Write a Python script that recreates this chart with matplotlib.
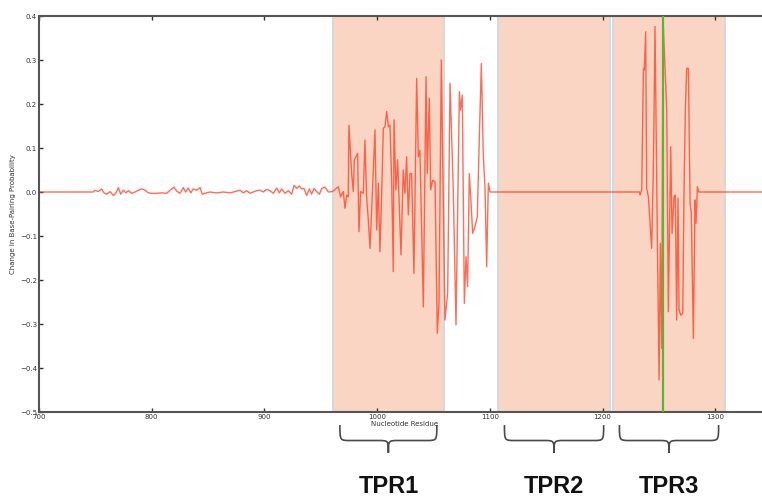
import matplotlib
matplotlib.use("Agg")
import matplotlib.pyplot as plt
from matplotlib.path import Path as MPath
from matplotlib.patches import PathPatch
import numpy as np

# flat stretch before the noise
lead_res = [700, 748]
lead_val = [0.0, 0.0]

# small wiggles 750-960
noise_res = [749.7, 752.6, 755.6, 757.7, 760.0, 763.0, 766.0, 768.3, 770.4, 772.5,
             774.8, 777.2, 779.3, 782.2, 785.2, 788.1, 791.1, 794.1, 797.0, 800.0,
             804.4, 808.8, 813.3, 817.7, 819.8, 822.2, 825.1, 828.1, 830.1, 832.5,
             834.6, 836.9, 839.9, 842.9, 844.9, 847.3, 851.7, 857.6, 863.6, 869.5,
             875.4, 878.4, 881.3, 884.3, 887.2, 890.2, 893.1, 896.1, 899.1, 902.0,
             905.0, 907.9, 910.9, 913.3, 915.3, 918.3, 921.2, 924.2, 926.3, 928.6,
             931.0, 933.1, 935.1, 937.5, 939.9, 941.9, 944.0, 946.4, 948.8, 950.8,
             953.8, 956.7]
noise_val = [0.004, 0.001, 0.007, -0.002, -0.005, 0.001, -0.008, -0.002, 0.010, -0.005,
             0.004, -0.002, 0.003, -0.003, 0.0, 0.004, 0.007, 0.004, -0.002, -0.003,
             -0.003, -0.002, -0.003, 0.007, 0.011, 0.002, -0.003, 0.010, 0.0, 0.009,
             -0.002, 0.007, 0.004, 0.010, -0.005, -0.003, 0.0, -0.002, 0.0, -0.002,
             0.002, 0.004, -0.002, 0.003, -0.003, 0.0, 0.003, 0.004, 0.0, 0.006,
             0.003, -0.003, 0.009, -0.002, 0.007, -0.003, 0.003, -0.005, 0.015, 0.008,
             0.014, 0.007, 0.008, -0.008, 0.007, -0.005, 0.008, 0.001, -0.005, 0.008,
             0.011, 0.0]

# burst around TPR1
tpr1_res = [960.5, 965.6, 967.6, 970.0, 971.5, 973.0, 974.4, 975.0, 977.4, 978.9,
            979.8, 981.2, 982.7, 983.9, 985.4, 987.8, 989.2, 990.7, 992.2, 993.7,
            995.2, 998.1, 999.6, 1001.1, 1002.5, 1004.0, 1005.5, 1007.0, 1008.5, 1010.0,
            1011.4, 1012.9, 1014.4, 1015.0, 1016.7, 1018.2, 1021.2, 1023.2, 1024.7, 1026.2,
            1027.7, 1029.2, 1030.6, 1032.7, 1035.1, 1036.6, 1038.0, 1041.0, 1043.4, 1044.5,
            1046.3, 1047.5, 1049.3, 1051.4, 1053.4, 1054.9, 1057.0, 1060.2, 1062.6, 1064.7,
            1067.6, 1070.0, 1073.0, 1074.1, 1075.6, 1077.4, 1078.9, 1080.3, 1081.8, 1083.3,
            1084.8, 1086.8, 1088.9, 1090.4, 1092.5, 1094.2, 1095.7, 1097.2, 1098.7, 1100.2]
tpr1_val = [0.001, 0.012, -0.011, 0.001, -0.037, -0.007, -0.011, 0.152, 0.042, 0.001,
            0.073, 0.080, 0.088, -0.090, 0.001, -0.003, 0.118, -0.011, -0.064, -0.128,
            -0.041, 0.141, -0.086, 0.020, -0.136, -0.011, 0.145, 0.148, 0.183, 0.148,
            0.152, 0.027, -0.181, 0.164, 0.005, 0.073, -0.143, 0.050, -0.003, 0.080,
            -0.052, 0.042, 0.042, -0.185, 0.258, 0.080, 0.095, -0.261, 0.262, 0.042,
            0.213, 0.005, 0.027, 0.023, -0.321, -0.253, 0.300, -0.291, -0.230, 0.247,
            0.005, -0.302, 0.228, 0.186, 0.220, -0.253, -0.147, -0.215, 0.042, -0.022,
            -0.094, -0.079, -0.056, 0.095, 0.292, 0.084, 0.012, -0.170, 0.020, 0.0]

# flat through TPR2
mid_res = [1232.7]
mid_val = [0.0]

# burst around TPR3
tpr3_res = [1233.3, 1234.8, 1236.3, 1237.1, 1238.3, 1239.2, 1240.7, 1243.6, 1245.1, 1246.6,
            1248.7, 1250.2, 1251.3, 1252.5, 1253.7, 1257.0, 1258.4, 1260.5, 1261.7, 1263.5,
            1264.6, 1265.8, 1267.0, 1267.9, 1269.4, 1271.2, 1272.3, 1273.5, 1274.7, 1276.2,
            1277.7, 1278.8, 1280.6, 1282.1, 1283.0, 1284.2, 1285.4]
tpr3_val = [-0.007, 0.005, 0.281, 0.277, 0.364, 0.008, -0.011, -0.128, 0.050, 0.376,
            -0.117, -0.427, -0.117, -0.355, 0.392, 0.186, -0.272, 0.103, -0.094, -0.011,
            -0.007, -0.291, -0.014, -0.268, -0.280, -0.276, 0.001, 0.186, 0.281, 0.281,
            -0.026, -0.048, -0.333, -0.018, -0.071, 0.012, 0.0]

tail_res = [1350]
tail_val = [0.0]

regions = [(961, 1059), (1107, 1207), (1209, 1309)]
region_names = ["TPR1", "TPR2", "TPR3"]
marker_res = 1253.4

xticks = [700, 800, 900, 1000, 1100, 1200, 1300]
yticks = [0.4, 0.3, 0.2, 0.1, 0.0, -0.1, -0.2, -0.3, -0.4, -0.5]

res = np.concatenate([lead_res, noise_res, tpr1_res, mid_res, tpr3_res, tail_res])
val = np.concatenate([lead_val, noise_val, tpr1_val, mid_val, tpr3_val, tail_val])


def brace(ax, x0, x1, yt, ym, yb, r=9):
    xc = 0.5 * (x0 + x1)
    verts = [(x0, yt), (x0, ym), (x0, ym), (x0 + r, ym),
             (xc - r, ym), (xc, ym), (xc, ym), (xc, yb),
             (xc, ym), (xc, ym), (xc + r, ym),
             (x1 - r, ym), (x1, ym), (x1, ym), (x1, yt)]
    codes = [MPath.MOVETO, MPath.CURVE4, MPath.CURVE4, MPath.CURVE4,
             MPath.LINETO, MPath.CURVE4, MPath.CURVE4, MPath.CURVE4,
             MPath.CURVE4, MPath.CURVE4, MPath.CURVE4,
             MPath.LINETO, MPath.CURVE4, MPath.CURVE4, MPath.CURVE4]
    patch = PathPatch(MPath(verts, codes), transform=ax.get_xaxis_transform(),
                      fill=False, edgecolor="#4a4a4a", lw=1.2, clip_on=False)
    ax.add_patch(patch)


fig = plt.figure(figsize=(7.62, 4.98), dpi=100)
ax = fig.add_axes([39 / 762, 1 - 412 / 498, 732 / 762, 396 / 498])

for lo, hi in regions:
    ax.axvspan(lo, hi, facecolor="#fad5c4", edgecolor="#d3d9dd", lw=1.5, zorder=0)

ax.plot(res, val, color="#ff3b1f", alpha=0.75, lw=1.0, zorder=2)
ax.axvline(marker_res, color="#5fb234", lw=1.6, zorder=3)

ax.set_xlim(700, 1349.5)
ax.set_ylim(-0.5, 0.4)
ax.set_xticks(xticks)
ax.set_yticks(yticks)
ax.tick_params(direction="in", length=3, width=1, labelsize=5, top=True, right=True,
               colors="#333333", pad=1.5)
for side in ["left", "top", "bottom"]:
    ax.spines[side].set_linewidth(1.5)
    ax.spines[side].set_color("#555555")
ax.spines["right"].set_visible(False)

ax.set_xlabel("Nucleotide Residue", fontsize=5, labelpad=1, color="#333333")
ax.set_ylabel("Change in Base-Pairing Probability", fontsize=5, labelpad=3, color="#333333")

for (lo, hi), name in zip(regions, region_names):
    brace(ax, lo + 6, hi - 6, -0.033, -0.072, -0.103)
    ax.text(0.5 * (lo + hi), -0.187, name, transform=ax.get_xaxis_transform(),
            ha="center", va="center", fontsize=17, fontweight="bold",
            family=["Liberation Sans", "DejaVu Sans"], color="#111111")

fig.savefig("out.png", dpi=100)
